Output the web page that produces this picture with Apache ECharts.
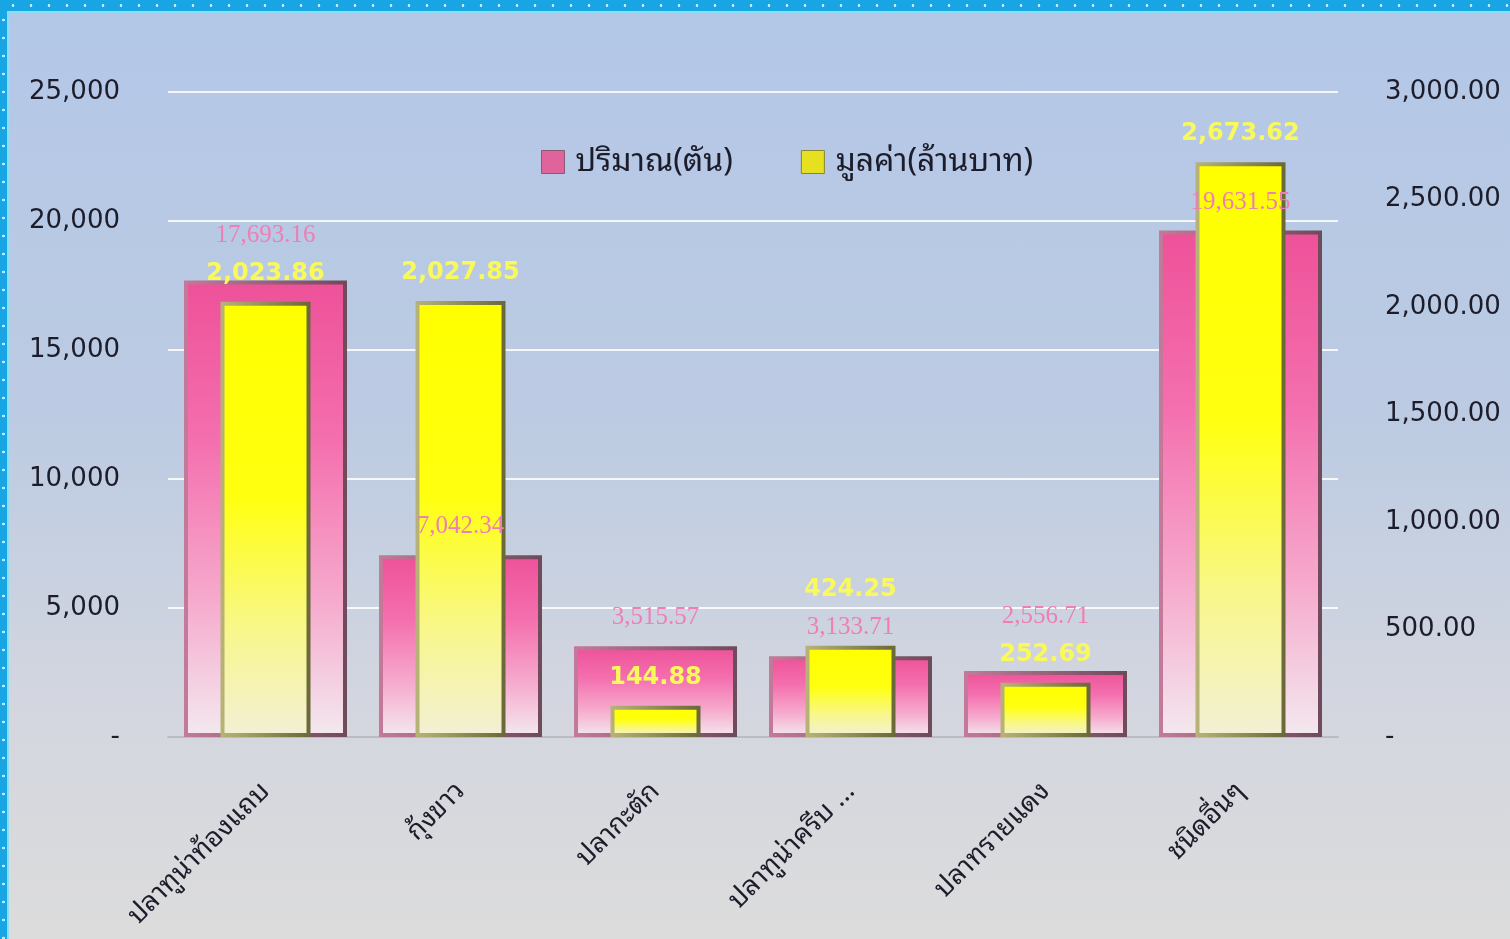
<!DOCTYPE html>
<html>
<head>
<meta charset="utf-8">
<script src="https://cdn.jsdelivr.net/npm/echarts@6/dist/echarts.min.js"></script>
<style>
  html, body { margin: 0; padding: 0; width: 1510px; height: 939px; overflow: hidden; }
  body { background: linear-gradient(to bottom, #b3c7e7 0%, #bccbe2 45%, #d3d6df 75%, #dcdcdc 100%); }
  #main { position: absolute; left: 0; top: 0; width: 1510px; height: 939px; }
  .edge-top { position: absolute; left: 0; top: 0; width: 1510px; height: 11px; background-color: #17a6e3;
    background-image: radial-gradient(circle, #b9ecff 1.2px, transparent 1.6px); background-size: 18px 11px; background-position: 4px 0; }
  .edge-left { position: absolute; left: 0; top: 11px; width: 7px; height: 928px; background-color: #17a6e3;
    background-image: radial-gradient(circle, #b9ecff 1.2px, transparent 1.6px); background-size: 7px 18px; }
  .edge-line { position: absolute; left: 7px; top: 11px; width: 1503px; height: 928px; border-top: 2px solid #8fdcf7; border-left: 2px solid #8fdcf7; box-sizing: border-box; }
</style>
</head>
<body>
<div id="main"></div>
<div class="edge-top"></div>
<div class="edge-left"></div>
<div class="edge-line"></div>
<script>
// หมวดหมู่ (ชนิดสัตว์น้ำ)
const categories = ['ปลาทูน่าท้องแถบ', 'กุ้งขาว', 'ปลากะตัก', 'ปลาทูน่าครีบ ...', 'ปลาทรายแดง', 'ชนิดอื่นๆ']
// ปริมาณ (ตัน)
const quantity = [17693.16, 7042.34, 3515.57, 3133.71, 2556.71, 19631.55]
// มูลค่า (ล้านบาท)
const value = [2023.86, 2027.85, 144.88, 424.25, 252.69, 2673.62]
const seriesNames = ['ปริมาณ(ตัน)', 'มูลค่า(ล้านบาท)']

const thaiFont = '"Noto Sans Thai Looped", "Noto Sans Thai", "Noto Sans", "DejaVu Sans", sans-serif'
const fmt = (v, d) => v.toLocaleString('en-US', { minimumFractionDigits: d, maximumFractionDigits: d })

const chart = echarts.init(document.getElementById('main'))

const LABEL_DIST = 16
const LABEL_STEP = 38

// ถ้าป้ายของสองชุดข้อมูลทับกัน ให้เลื่อนป้ายที่อยู่สูงกว่าขึ้นไปอีก (แบบ Excel)
function avoidOverlap(params) {
  const i = params.dataIndex
  const h = params.labelRect.height
  const yq = chart.convertToPixel({ yAxisIndex: 0 }, quantity[i]) - LABEL_DIST - h / 2
  const yv = chart.convertToPixel({ yAxisIndex: 1 }, value[i]) - LABEL_DIST - h / 2
  if (Math.abs(yq - yv) >= LABEL_STEP) return {}
  const mine = params.seriesIndex === 0 ? yq : yv
  const other = params.seriesIndex === 0 ? yv : yq
  if (mine <= other) return { dy: (other - LABEL_STEP) - mine }
  return {}
}

const pinkFill = new echarts.graphic.LinearGradient(0, 0, 0, 1, [
  { offset: 0, color: '#ee5199' },
  { offset: 0.35, color: '#f46fae' },
  { offset: 0.7, color: '#f6aacd' },
  { offset: 1, color: '#f3e9ef' }
])
const yellowFill = new echarts.graphic.LinearGradient(0, 0, 0, 1, [
  { offset: 0, color: '#ffff00' },
  { offset: 0.45, color: '#ffff10' },
  { offset: 0.75, color: '#f8f78a' },
  { offset: 1, color: '#f2f0d6' }
])
const pinkEdge = new echarts.graphic.LinearGradient(0, 0, 1, 0, [
  { offset: 0, color: '#c47a9a' },
  { offset: 1, color: '#6e4a5a' }
])
const yellowEdge = new echarts.graphic.LinearGradient(0, 0, 1, 0, [
  { offset: 0, color: '#b8b478' },
  { offset: 1, color: '#6a6838' }
])

var option = {
  backgroundColor: 'transparent',
  textStyle: { fontFamily: thaiFont },
  legend: {
    top: 141,
    left: 536,
    itemWidth: 23,
    itemHeight: 23,
    itemGap: 68,
    textStyle: { fontSize: 32, color: '#1c1c2a', fontFamily: thaiFont, padding: [0, 0, 0, 6] },
    data: [
      { name: seriesNames[0], icon: 'rect', itemStyle: { color: '#e0649c', borderColor: '#8a5a6e', borderWidth: 1 } },
      { name: seriesNames[1], icon: 'rect', itemStyle: { color: '#e6e020', borderColor: '#8a8530', borderWidth: 1 } }
    ]
  },
  grid: { left: 168, right: 172, top: 92, bottom: 202 },
  xAxis: [
    {
      type: 'category',
      data: categories,
      axisLine: { lineStyle: { color: '#b9bcc6', width: 2 } },
      axisTick: { show: false },
      axisLabel: { rotate: 45, margin: 50, fontSize: 27, color: '#1c1c2a', fontFamily: thaiFont }
    },
    { type: 'category', data: categories, show: false }
  ],
  yAxis: [
    {
      type: 'value', min: 0, max: 25000, interval: 5000,
      axisLine: { show: false }, axisTick: { show: false },
      splitLine: { lineStyle: { color: '#ffffff', width: 2, opacity: 0.85 } },
      axisLabel: { margin: 48, fontSize: 26, color: '#1c1c2a', fontFamily: '"DejaVu Sans", sans-serif',
        formatter: v => v === 0 ? '-' : fmt(v, 0) }
    },
    {
      type: 'value', min: 0, max: 3000, interval: 500,
      axisLine: { show: false }, axisTick: { show: false },
      splitLine: { show: false },
      axisLabel: { margin: 47, fontSize: 26, color: '#1c1c2a', fontFamily: '"DejaVu Sans", sans-serif',
        formatter: v => v === 0 ? '-' : fmt(v, 2) }
    }
  ],
  series: [
    {
      name: seriesNames[0],
      type: 'bar',
      xAxisIndex: 0, yAxisIndex: 0,
      barWidth: 163,
      data: quantity,
      itemStyle: { color: pinkFill, borderColor: pinkEdge, borderWidth: 4 },
      label: {
        show: true, position: 'top', distance: LABEL_DIST,
        color: '#ee7fb4', fontSize: 25, fontFamily: '"Liberation Serif", "DejaVu Serif", serif',
        formatter: p => fmt(p.value, 2)
      },
      labelLayout: avoidOverlap,
      z: 2
    },
    {
      name: seriesNames[1],
      type: 'bar',
      xAxisIndex: 1, yAxisIndex: 1,
      barWidth: 90,
      data: value,
      itemStyle: { color: yellowFill, borderColor: yellowEdge, borderWidth: 4 },
      label: {
        show: true, position: 'top', distance: LABEL_DIST,
        color: '#f9f95c', fontSize: 24, fontWeight: 'bold', fontFamily: '"DejaVu Sans", sans-serif',
        formatter: p => fmt(p.value, 2)
      },
      labelLayout: avoidOverlap,
      z: 2
    }
  ]
}

chart.setOption(option)
</script>
</body>
</html>
